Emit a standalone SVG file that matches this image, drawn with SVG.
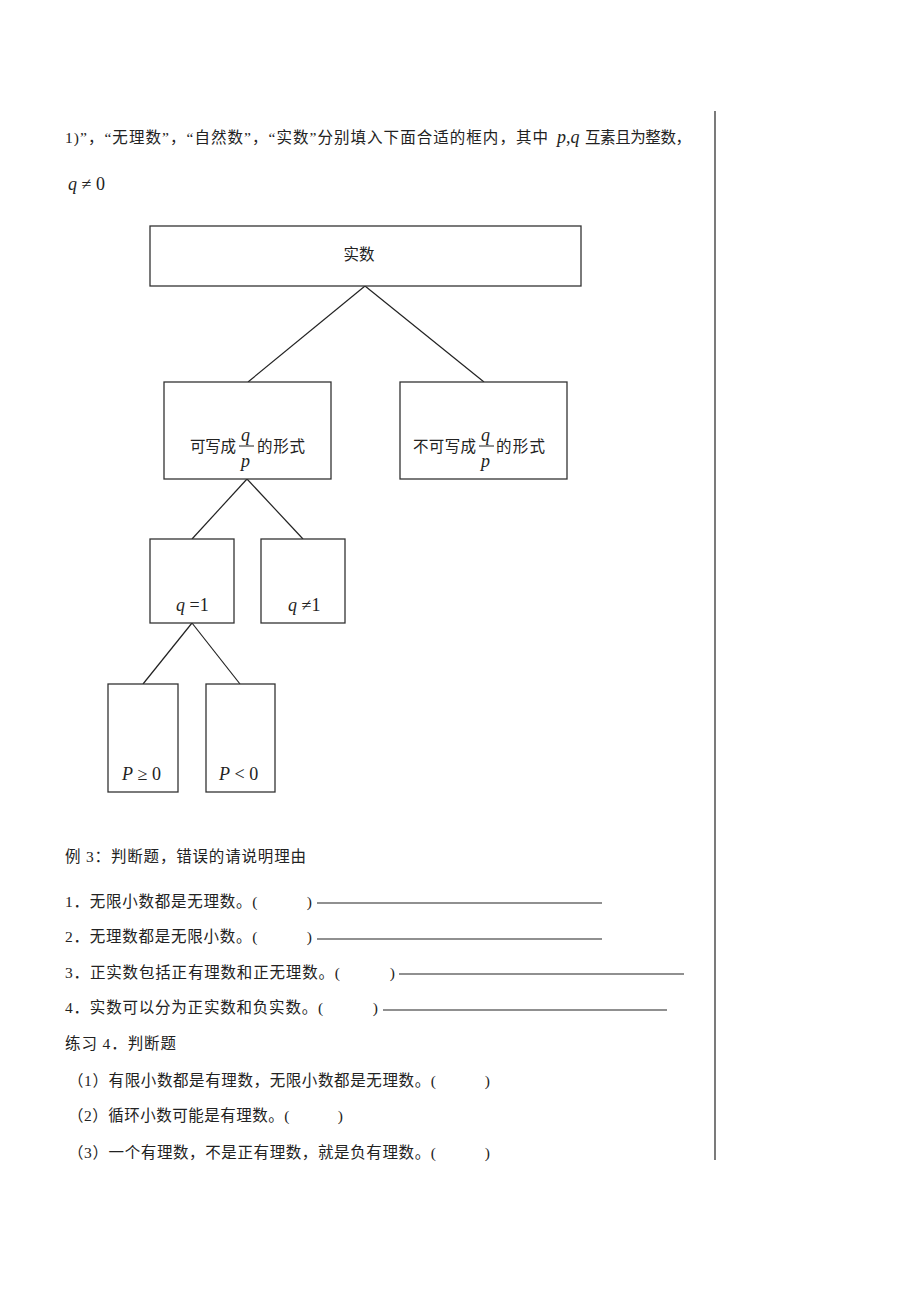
<svg xmlns="http://www.w3.org/2000/svg" width="920" height="1302" viewBox="0 0 920 1302">
<style>
.t{font-family:"Liberation Serif","Noto Sans CJK SC",serif;font-size:15.5px;fill:#222}
.m{font-family:"Liberation Serif",serif;font-size:18px;font-style:italic;fill:#222}
.n{font-family:"Liberation Serif",serif;font-size:18px;fill:#222}
.b{fill:#fff;stroke:#333;stroke-width:1.3}
.c line{stroke:#222;stroke-width:1.2}
.u{stroke:#222;stroke-width:1.2}
</style>
<rect width="920" height="1302" fill="#fff"/>
<line x1="715" y1="111" x2="715" y2="1160" stroke="#333" stroke-width="1.3"/>
<text class="t" x="65" y="143" textLength="483" lengthAdjust="spacing">1)”，“无理数”，“自然数”，“实数”分别填入下面合适的框内，其中</text>
<text x="557" y="143"><tspan class="m">p</tspan><tspan class="n">,</tspan><tspan class="m">q</tspan></text>
<text class="t" x="585" y="143" textLength="106" lengthAdjust="spacing">互素且为整数，</text>
<text x="68" y="190"><tspan class="m">q</tspan><tspan class="n"> ≠ 0</tspan></text>
<g class="c" id="connectors">
<line x1="365" y1="286" x2="248" y2="382"/>
<line x1="365" y1="286" x2="484" y2="382"/>
<line x1="247" y1="479" x2="192" y2="539"/>
<line x1="247" y1="479" x2="303" y2="539"/>
<line x1="192" y1="623" x2="143" y2="684"/>
<line x1="192" y1="623" x2="240" y2="684"/>
</g>
<g id="real">
<rect class="b" x="150" y="226" width="431" height="60"/>
<text class="t" x="359" y="260" text-anchor="middle">实数</text>
</g>
<g id="rational">
<rect class="b" x="164" y="382" width="167" height="97"/>
<text class="t" x="190" y="452" textLength="46" lengthAdjust="spacing">可写成</text>
<text class="m" x="241" y="441">q</text>
<line x1="239" y1="446" x2="254" y2="446" stroke="#222" stroke-width="1"/>
<text class="m" x="241" y="467">p</text>
<text class="t" x="257" y="452" textLength="48" lengthAdjust="spacing">的形式</text>
</g>
<g id="irrational">
<rect class="b" x="400" y="382" width="167" height="97"/>
<text class="t" x="413" y="452" textLength="63" lengthAdjust="spacing">不可写成</text>
<text class="m" x="481" y="441">q</text>
<line x1="479" y1="446" x2="494" y2="446" stroke="#222" stroke-width="1"/>
<text class="m" x="481" y="467">p</text>
<text class="t" x="496" y="452" textLength="49" lengthAdjust="spacing">的形式</text>
</g>
<g id="q1">
<rect class="b" x="150" y="539" width="84" height="84"/>
<text x="176" y="611"><tspan class="m">q</tspan><tspan class="n"> =1</tspan></text>
</g>
<g id="qn1">
<rect class="b" x="261" y="539" width="84" height="84"/>
<text x="288" y="611"><tspan class="m">q</tspan><tspan class="n"> ≠1</tspan></text>
</g>
<g id="pge0">
<rect class="b" x="108" y="684" width="70" height="108"/>
<text x="122" y="780"><tspan class="m">P</tspan><tspan class="n"> ≥ 0</tspan></text>
</g>
<g id="plt0">
<rect class="b" x="206" y="684" width="69" height="108"/>
<text x="219" y="780"><tspan class="m">P</tspan><tspan class="n"> &lt; 0</tspan></text>
</g>
<text class="t" x="65" y="862" textLength="241" lengthAdjust="spacing">例 3：判断题，错误的请说明理由</text>
<text class="t" x="65" y="907" textLength="247" lengthAdjust="spacing">1．无限小数都是无理数。(　　　)</text>
<line class="u" x1="317" y1="903" x2="602" y2="903"/>
<text class="t" x="65" y="942" textLength="247" lengthAdjust="spacing">2．无理数都是无限小数。(　　　)</text>
<line class="u" x1="317" y1="939" x2="602" y2="939"/>
<text class="t" x="65" y="978" textLength="330" lengthAdjust="spacing">3．正实数包括正有理数和正无理数。(　　　)</text>
<line class="u" x1="399" y1="974" x2="684" y2="974"/>
<text class="t" x="65" y="1013" textLength="313" lengthAdjust="spacing">4．实数可以分为正实数和负实数。(　　　)</text>
<line class="u" x1="383" y1="1010" x2="667" y2="1010"/>
<text class="t" x="65" y="1049" textLength="111" lengthAdjust="spacing">练习 4．判断题</text>
<text class="t" x="68" y="1086" textLength="422" lengthAdjust="spacing">（1）有限小数都是有理数，无限小数都是无理数。(　　　)</text>
<text class="t" x="68" y="1121" textLength="275" lengthAdjust="spacing">（2）循环小数可能是有理数。(　　　)</text>
<text class="t" x="68" y="1158" textLength="422" lengthAdjust="spacing">（3）一个有理数，不是正有理数，就是负有理数。(　　　)</text>
</svg>
